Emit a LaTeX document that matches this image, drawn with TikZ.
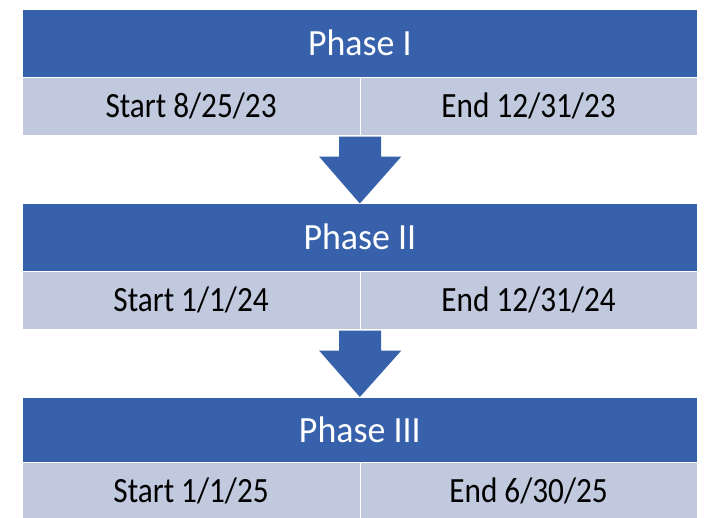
\documentclass[tikz,border=0pt]{standalone}
\usepackage{fontspec}
\setmainfont{Carlito}
\newfontfamily\datefont[FakeStretch=0.88]{Carlito}
\newfontfamily\headfont[FakeStretch=0.97]{Carlito}
\usetikzlibrary{calc}
\definecolor{phaseblue}{HTML}{3861AC}
\definecolor{rowgray}{HTML}{C1C9DE}
\begin{document}
\begin{tikzpicture}[x=1pt,y=-1pt,
  header/.style={fill=phaseblue, draw=white, line width=0.7pt, minimum width=675pt,
    minimum height=67.5pt, inner sep=0pt, text=white, anchor=north west,
    font=\headfont\fontsize{37}{42}\selectfont},
  cell/.style={fill=rowgray, draw=white, line width=0.7pt, minimum width=337.5pt,
    minimum height=58pt, inner sep=0pt, text=black, anchor=north west,
    font=\datefont\fontsize{35.5}{40}\selectfont},
  blockarrow/.style={fill=phaseblue}]
\useasboundingbox (0,0) rectangle (704,518);
\clip (0,0) rectangle (704,518);
\fill[white] (0,0) rectangle (704,518);
% Phase I
\node[header] (h1) at (22,9.5) {\raisebox{2pt}{Phase I}};
\node[cell] (s1) at (22,77) {Start 8/25/23};
\node[cell] (e1) at (359.5,77) {End 12/31/23};
% Phase II
\node[header] (h2) at (22,203.5) {\raisebox{2pt}{Phase II}};
\node[cell] (s2) at (22,271) {Start 1/1/24};
\node[cell] (e2) at (359.5,271) {End 12/31/24};
% Phase III
\node[header] (h3) at (22,397) {\raisebox{2pt}{Phase III}};
\node[cell] (s3) at (22,462) {Start 1/1/25};
\node[cell] (e3) at (359.5,462) {End 6/30/25};
% arrows
\fill[blockarrow] ($(s1.south east)+(-21,1)$) -- ($(s1.south east)+(21,1)$)
  -- ($(s1.south east)+(21,21)$) -- ($(s1.south east)+(41,21)$) -- (h2.north)
  -- ($(s1.south east)+(-41,21)$) -- ($(s1.south east)+(-21,21)$) -- cycle;
\fill[blockarrow] ($(s2.south east)+(-21,1)$) -- ($(s2.south east)+(21,1)$)
  -- ($(s2.south east)+(21,21)$) -- ($(s2.south east)+(41,21)$) -- (h3.north)
  -- ($(s2.south east)+(-41,21)$) -- ($(s2.south east)+(-21,21)$) -- cycle;
\end{tikzpicture}
\end{document}
